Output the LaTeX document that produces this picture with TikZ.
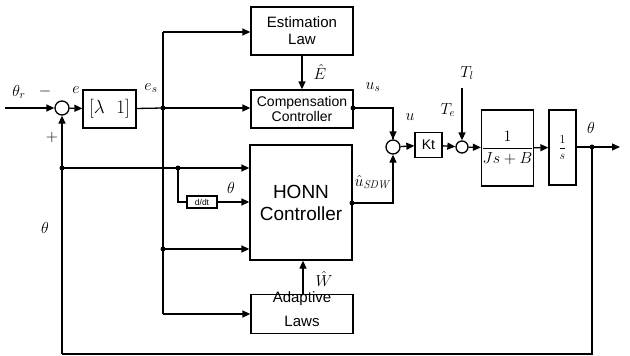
\documentclass[tikz,border=0pt]{standalone}
\usepackage{fix-cm}
\usepackage{amsmath}
\usepackage{fontspec}
\setsansfont{Liberation Sans}
\usetikzlibrary{arrows.meta,calc}
\tikzset{
  blk/.style={draw,line width=1.3pt,fill=white,inner sep=0pt,align=center,font=\sffamily},
  sumc/.style={draw,circle,line width=1.3pt,minimum size=14pt,inner sep=0pt},
  con/.style={line width=1.3pt},
  arr/.style={line width=1.3pt,-{Triangle[length=8pt,width=7pt]}},
  dot/.style={circle,fill,inner sep=0pt,minimum size=5pt},
  lbl/.style={inner sep=0pt,font=\fontsize{16}{16}\selectfont}
}
\begin{document}
\begin{tikzpicture}[x=1pt,y=-1pt]
\useasboundingbox (0,0) rectangle (630,356);
% blocks
\node[blk,minimum width=102pt,minimum height=48pt,font=\sffamily\fontsize{15}{17}\selectfont] (est) at (302,31) {Estimation\\Law};
\node[blk,minimum width=102pt,minimum height=38pt,font=\sffamily\fontsize{14}{15.5}\selectfont] (comp) at (302,109) {Compensation\\Controller};
\node[blk,minimum width=102pt,minimum height=115pt,font=\sffamily\fontsize{19}{22}\selectfont] (honn) at (301,202.5) {HONN\\Controller};
\node[blk,minimum width=102pt,minimum height=39pt] (adp) at (302,314) {};
\node[font=\sffamily\fontsize{15}{15}\selectfont,inner sep=0pt] (adpt) at (302,299) {Adaptive};
\node[font=\sffamily\fontsize{15}{15}\selectfont,inner sep=0pt] (adpl) at (302,321) {Laws};
\node[blk,minimum width=53pt,minimum height=38pt,font=\fontsize{19}{19}\selectfont] (lam) at (109.5,109) {$[\lambda\ \ 1]$};
\node[blk,minimum width=30pt,minimum height=12pt,font=\sffamily\fontsize{8.5}{8.5}\selectfont] (ddt) at (202,202) {d/dt};
\node[blk,minimum width=27pt,minimum height=25pt,font=\sffamily\fontsize{14}{14}\selectfont] (kt) at (428.5,145) {Kt};
\node[blk,minimum width=49pt,minimum height=76pt,font=\fontsize{16}{16}\selectfont] (g1) at (507.5,148) {$\dfrac{1}{Js+B}$};
\node[blk,minimum width=27pt,minimum height=75pt,font=\fontsize{12}{12}\selectfont] (g2) at (562.5,147.5) {$\dfrac{1}{s}$};
% summing junctions
\node[sumc] (s1) at (62,108) {};
\node[sumc] (s2) at (393,147) {};
\node[sumc,minimum size=12pt] (s3) at (462,147) {};
% coordinates
\coordinate (in) at (5,108);
\coordinate (es) at (163,108);
\coordinate (etop) at (163,32);
\coordinate (eh) at (163,249);
\coordinate (ebot) at (163,314);
\coordinate (fbth) at (62,168);
\coordinate (dth) at (178,168);
\coordinate (dd) at (178,202);
\coordinate (cu) at (353,108);
\coordinate (hu) at (352,203);
\coordinate (tl) at (462,88);
\coordinate (out) at (592,147);
\coordinate (oend) at (620,147);
\coordinate (fb1) at (592,354);
\coordinate (fb2) at (62,354);
% connectors
\draw[arr] (in) -- (s1);
\draw[arr] (s1) -- (lam);
\draw[con] (lam) -- (es);
\draw[arr] (es) -- (comp.west|-es);
\draw[con] (etop) -- (ebot);
\draw[arr] (etop) -- (est.west|-etop);
\draw[arr] (eh) -- (honn.west|-eh);
\draw[arr] (ebot) -- (adp.west|-ebot);
\draw[arr] (est.south-|comp.north) -- (comp.north);
\draw[con] (cu) -| (s2.north) ;
\draw[arr] (s2.north|-cu) -- (s2.north);
\draw[arr] (hu) -| (s2.south);
\draw[arr] (s2) -- (kt);
\draw[arr] (kt) -- (s3);
\draw[arr] (tl) -- (s3.north);
\draw[arr] (s3) -- (g1);
\draw[arr] (g1) -- (g2);
\draw[arr] (g2.east|-out) -- (oend);
\draw[con] (out) -- (fb1) -- (fb2);
\draw[arr] (fb2) -- (s1.south);
\draw[arr] (fbth) -- (honn.west|-fbth);
\draw[con] (dth) -- (dd) -- (ddt.west);
\draw[arr] (ddt) -- (honn.west|-ddt);
\draw[arr] ($(adp.north)+(1,0)$) -- ($(honn.south)+(2,0)$);
% dots
\foreach \p in {es,eh,fbth,dth,cu,hu,out} \node[dot] at (\p) {};
% labels
\node[lbl] (lthr) at (19,92) {$\theta_r$};
\node[lbl] (lmin) at (45,91) {$-$};
\node[lbl] (lplus) at (52,137) {$+$};
\node[lbl] (le) at (76,90) {$e$};
\node[lbl] (les) at (151,88) {$e_s$};
\node[lbl] (lth1) at (45,228) {$\theta$};
\node[lbl] (lth2) at (231,188) {$\theta$};
\node[lbl] (lE) at (320,72) {$\hat{E}$};
\node[lbl] (lW) at (324,279) {$\hat{W}$};
\node[lbl] (lus) at (373,87) {$u_s$};
\node[lbl] (lu) at (410,117) {$u$};
\node[lbl] (lusdw) at (372,182) {$\hat{u}_{\mathit{SDW}}$};
\node[lbl] (lte) at (448,110) {$T_e$};
\node[lbl] (ltl) at (467,73) {$T_l$};
\node[lbl] (lth3) at (591,128) {$\theta$};
\end{tikzpicture}
\end{document}
